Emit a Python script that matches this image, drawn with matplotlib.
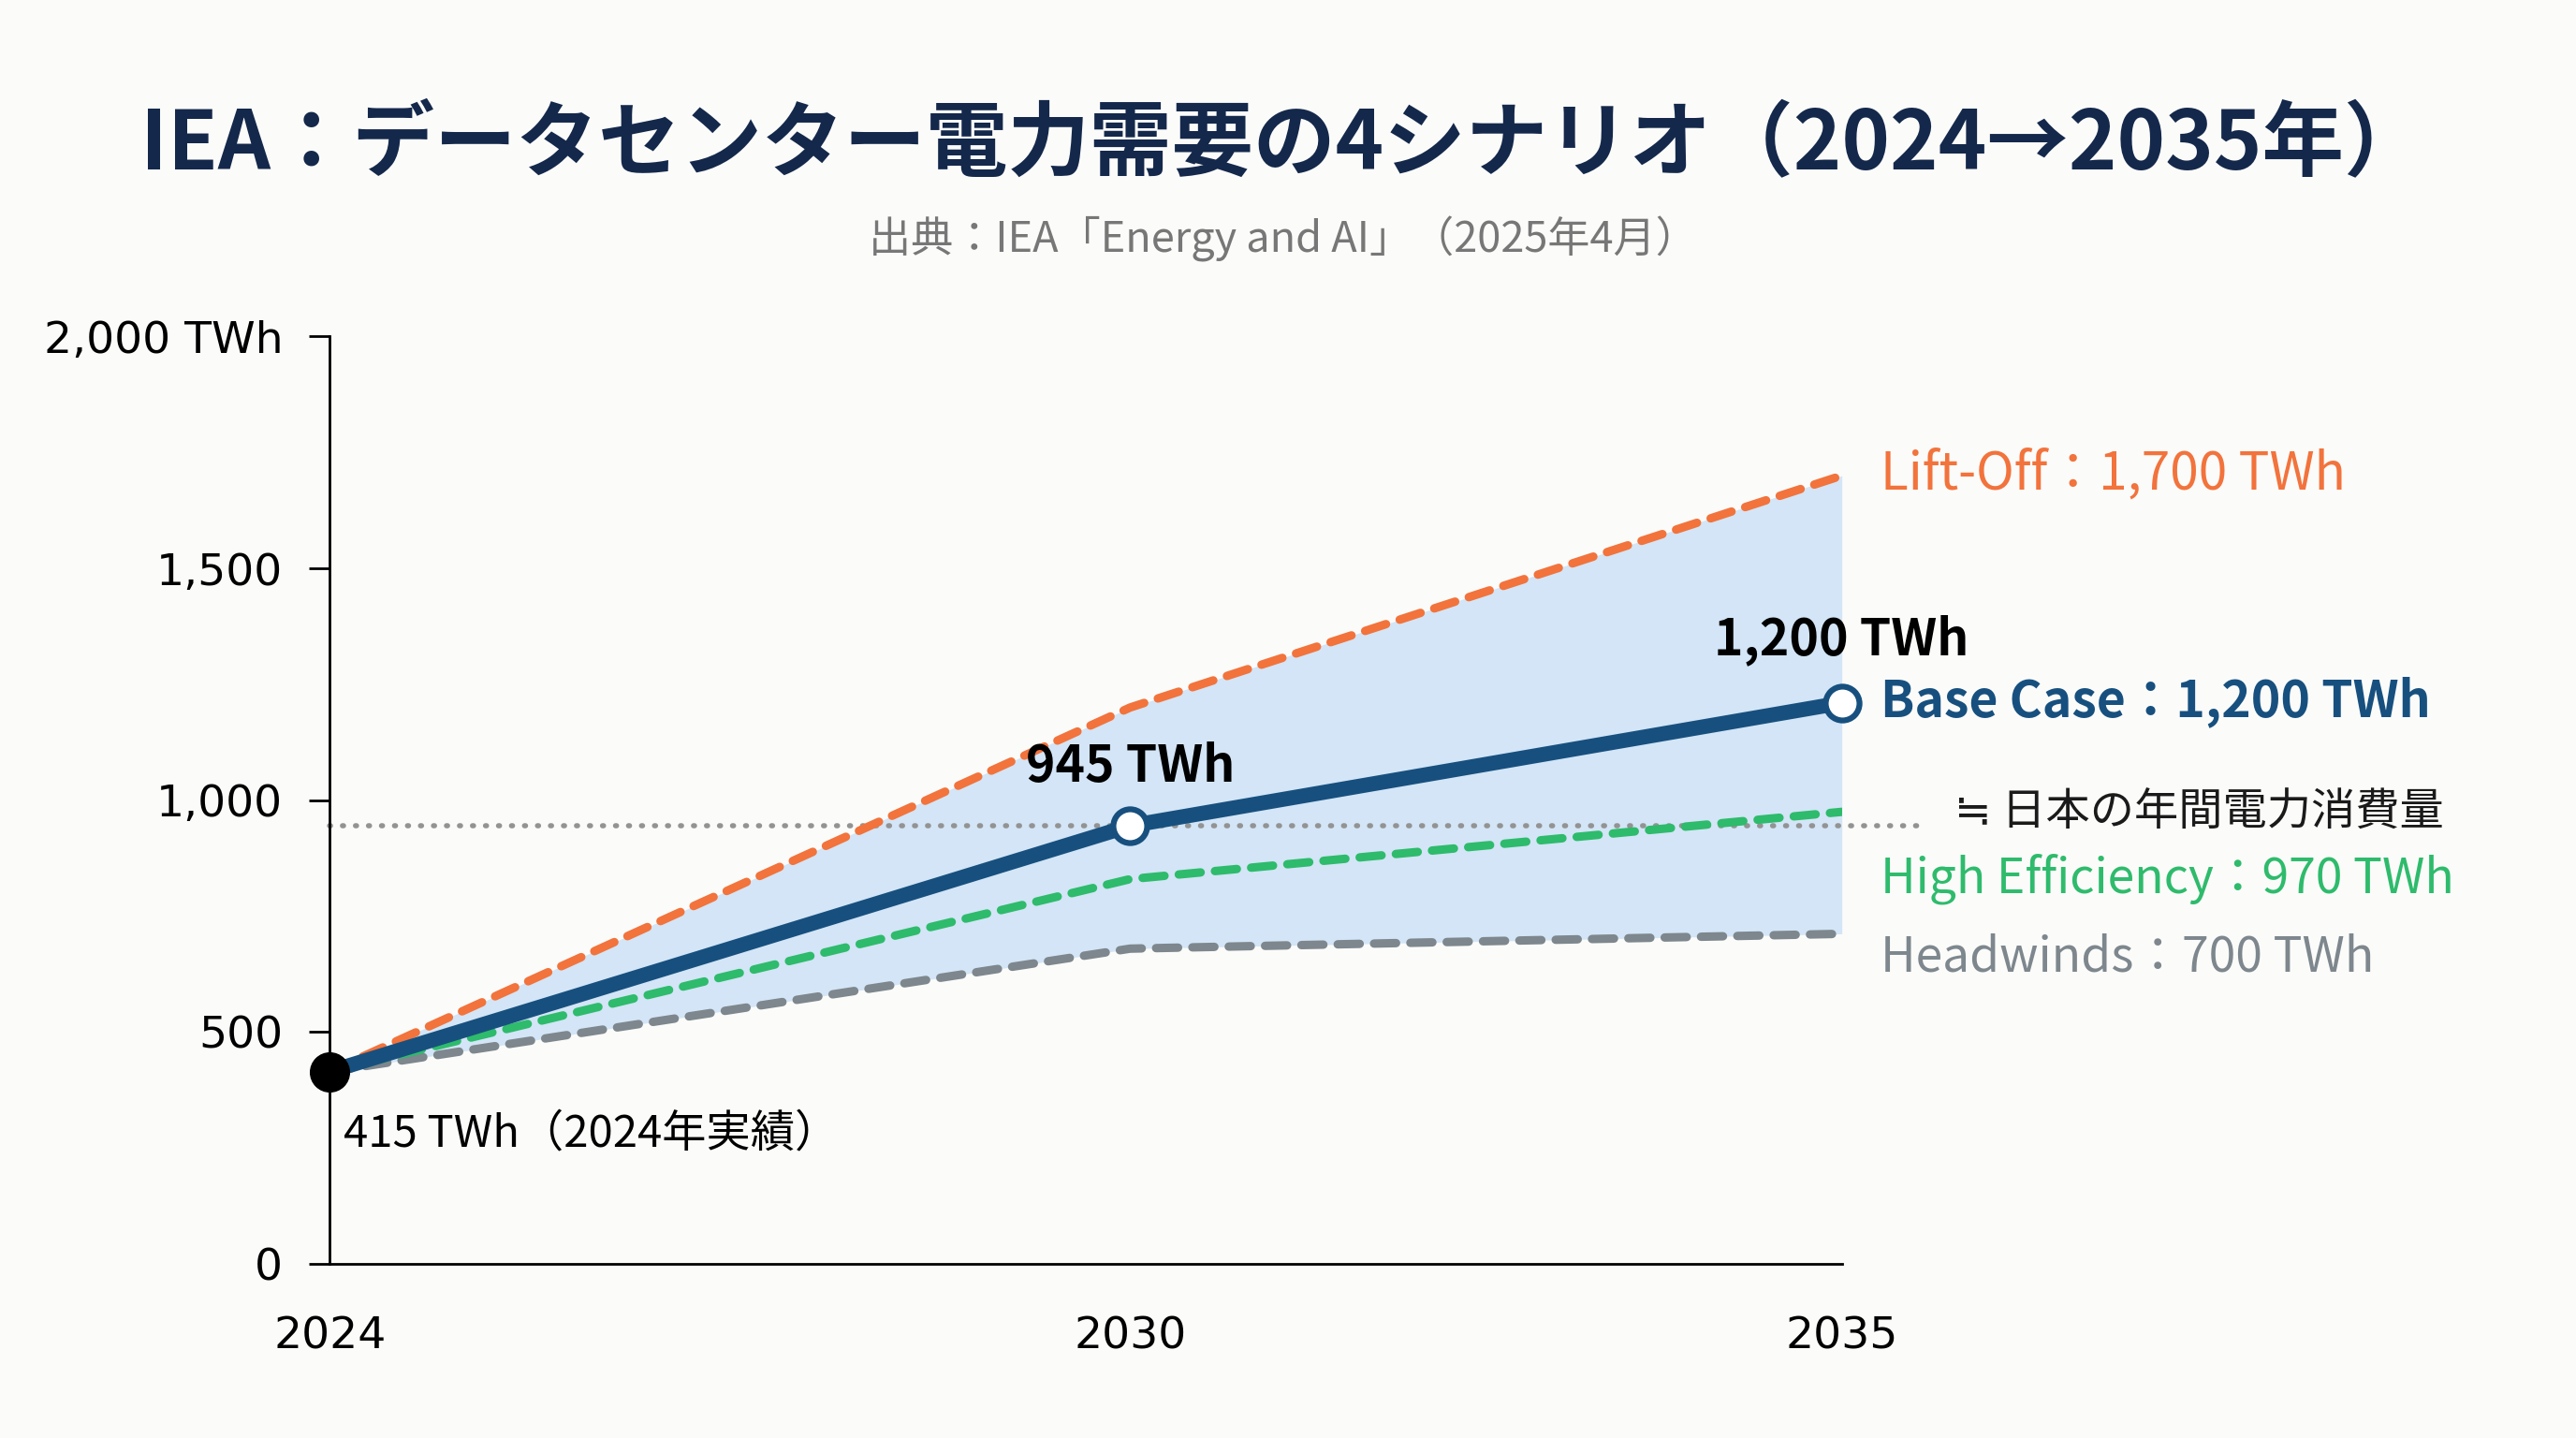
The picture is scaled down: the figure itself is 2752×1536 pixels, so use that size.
import matplotlib
matplotlib.use("Agg")
import matplotlib.pyplot as plt
import numpy as np
from matplotlib.ticker import FuncFormatter

# data (TWh)
years = [2024, 2030, 2035]
lift_off = [415, 1200, 1700]
base_case = [415, 945, 1210]
high_eff = [415, 830, 975]
headwinds = [415, 680, 712]
japan_use = 945
y_ticks = [0, 500, 1000, 1500, 2000]

JP = ['Noto Sans CJK JP', 'DejaVu Sans']
BG = '#fbfbf9'
ORANGE = '#f2733c'
NAVY = '#17507f'
GREEN = '#2ebb6c'
GRAY = '#7d878d'

fig = plt.figure(figsize=(27.52, 15.36), dpi=100, facecolor=BG)
ax = fig.add_axes([0.128, 0.121, 0.587, 0.645])
ax.set_facecolor(BG)

# the reference spaces the years unevenly (2024-2030 is squeezed a little)
xs_year = [2024, 2030, 2035, 2036]
xs_pos = [0.0, 487.0, 920.0, 1003.6]
ax.set_xscale('function', functions=(lambda v: np.interp(v, xs_year, xs_pos),
                                     lambda v: np.interp(v, xs_pos, xs_year)))

ax.fill_between(years, headwinds, lift_off, color='#cfe3f6', alpha=0.9, lw=0, zorder=1)
ax.plot([2024, 2035.6], [japan_use, japan_use], color='#939393', lw=4,
        ls=(0, (0.2, 2.3)), dash_capstyle='round', clip_on=False, zorder=2)

dash_kw = dict(lw=6.5, dashes=(2.6, 1.7), dash_capstyle='round', zorder=3)
ax.plot(years, headwinds, color=GRAY, **dash_kw)
ax.plot(years, high_eff, color=GREEN, **dash_kw)
ax.plot(years, lift_off, color=ORANGE, **dash_kw)
ax.plot(years, base_case, color=NAVY, lw=11.5, solid_capstyle='round', zorder=4)

ax.plot(years[1:], base_case[1:], 'o', ms=26, mfc='white', mec=NAVY, mew=4.5,
        zorder=6, clip_on=False)
ax.plot(years[0], base_case[0], 'o', ms=30, color='black', zorder=7, clip_on=False)

ax.set_xlim(2024, 2035)
ax.set_ylim(0, 2000)
ax.set_xticks(years)
ax.set_xticklabels([str(y) for y in years])
ax.xaxis.set_minor_locator(plt.NullLocator())
ax.set_yticks(y_ticks)
ax.yaxis.set_major_formatter(FuncFormatter(
    lambda v, p: f'{int(v):,} TWh' if v == 2000 else f'{int(v):,}'))
ax.tick_params(axis='y', length=16, width=2, pad=20, labelsize=34)
ax.tick_params(axis='x', length=0, pad=40, labelsize=34)
for s in ['top', 'right']:
    ax.spines[s].set_visible(False)
for s in ['left', 'bottom']:
    ax.spines[s].set_linewidth(2)

# annotations
ax.text(2024.1, 280, '415 TWh（2024年実績）', family=JP, fontsize=34, va='center', ha='left')
ax.text(2030, 1072, '945 TWh', family=JP, fontsize=38.5, fontweight='bold', ha='center', va='center')
ax.text(2035, 1345, '1,200 TWh', family=JP, fontsize=38.5, fontweight='bold', ha='center', va='center')

rx = 2035.28
ax.text(rx, 1702, 'Lift-Off：1,700 TWh', family=JP, fontsize=39.5, color=ORANGE, va='center', clip_on=False)
ax.text(rx, 1213, 'Base Case：1,200 TWh', family=JP, fontsize=38.5, fontweight='bold', color=NAVY, va='center', clip_on=False)
ax.text(2035.82, 972, '≒ 日本の年間電力消費量', family=JP, fontsize=34, color='#1a1a1a', va='center', clip_on=False)
ax.text(rx, 830, 'High Efficiency：970 TWh', family=JP, fontsize=37.2, color=GREEN, va='center', clip_on=False)
ax.text(rx, 660, 'Headwinds：700 TWh', family=JP, fontsize=37.2, color=GRAY, va='center', clip_on=False)

fig.text(0.498, 0.899, 'IEA：データセンター電力需要の4シナリオ（2024→2035年）', family=JP,
         fontsize=63, fontweight='bold', color='#14284b', ha='center', va='center')
fig.text(0.498, 0.834, '出典：IEA「Energy and AI」（2025年4月）', family=JP,
         fontsize=32.5, color='#777777', ha='center', va='center')

fig.savefig('out.png', dpi=100, facecolor=BG)
